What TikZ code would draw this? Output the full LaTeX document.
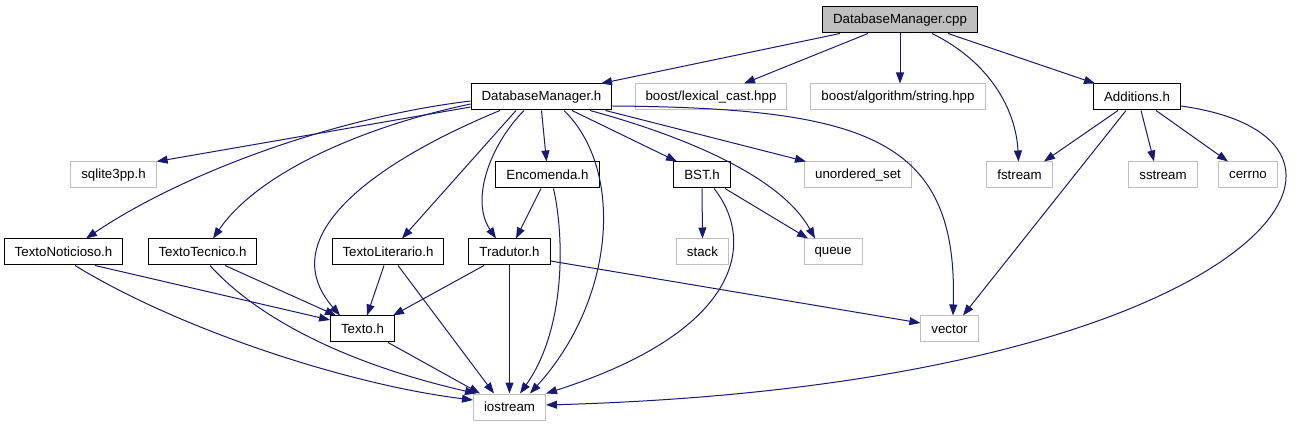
\documentclass[tikz,border=0pt]{standalone}
\usepackage{fontspec}
\setmainfont{Liberation Sans}
\usepackage{tikz}
\usetikzlibrary{arrows.meta,positioning}
\definecolor{edgeblue}{RGB}{25,25,112}
\definecolor{extgray}{RGB}{191,191,191}
\definecolor{rootfill}{RGB}{191,191,191}

\begin{document}
\begin{tikzpicture}[x=1pt, y=-1pt, >={Triangle[length=11pt,width=8pt]},
  hdr/.style={rectangle, draw=black, fill=white, line width=1pt, minimum height=26pt, inner xsep=10.5pt, inner ysep=0pt, font=\fontsize{13.3}{16}\selectfont},
  sys/.style={hdr, draw=extgray},
  rootnode/.style={hdr, fill=rootfill},
  dep/.style={->, edgeblue, line width=1pt}]
\path[use as bounding box, fill=white] (0,0) rectangle (1303,427);
% Rank 0
\node[rootnode] (cpp) at (900,20) {DatabaseManager.cpp};
% Rank 1
\node[hdr] (dmh) at (541.5,97) {DatabaseManager.h};
\node[sys] (lex) at (711,97) {boost/lexical\_cast.hpp};
\node[sys] (alg) at (898,97) {boost/algorithm/string.hpp};
\node[hdr] (add) at (1137,97) {Additions.h};
% Rank 2
\node[sys] (sql) at (113.5,175) {sqlite3pp.h};
\node[hdr] (enc) at (547.5,175) {Encomenda.h};
\node[hdr] (bst) at (702,175) {BST.h};
\node[sys] (uset) at (858,175) {unordered\_set};
\node[sys] (fst) at (1019.5,175) {fstream};
\node[sys] (sst) at (1163,175) {sstream};
\node[sys] (err) at (1248,175) {cerrno};
% Rank 3
\node[hdr] (not) at (63.5,252) {TextoNoticioso.h};
\node[hdr] (tec) at (202.5,252) {TextoTecnico.h};
\node[hdr] (lit) at (388,252) {TextoLiterario.h};
\node[hdr] (tra) at (509.5,252) {Tradutor.h};
\node[sys] (stk) at (702.5,252) {stack};
\node[sys] (que) at (833,252) {queue};
% Rank 4
\node[hdr] (txt) at (362.5,329) {Texto.h};
\node[sys] (vec) at (949.5,329) {vector};
% Rank 5
\node[sys] (ios) at (509.5,407) {iostream};
% From DatabaseManager.cpp
\draw[dep] ([xshift=-60pt]cpp.south) -- ([xshift=59.5pt]dmh.north);
\draw[dep] ([xshift=-32pt]cpp.south) -- ([xshift=33pt]lex.north);
\draw[dep] (cpp.south) -- ([xshift=2pt]alg.north);
\draw[dep] ([xshift=32pt]cpp.south) .. controls (990,62) and (1016,110) .. ([xshift=-1pt]fst.north);
\draw[dep] ([xshift=48pt]cpp.south) -- ([xshift=-42pt]add.north);
% From DatabaseManager.h
\draw[dep] ([yshift=-10pt]dmh.west) -- (sql.north east);
\draw[dep] ([yshift=-4pt]dmh.west) .. controls (330,118) and (180,175) .. ([xshift=22.5pt]not.north);
\draw[dep] ([yshift=-7pt]dmh.west) .. controls (370,125) and (260,170) .. ([xshift=10.5pt]tec.north);
\draw[dep] ([xshift=-41.5pt]dmh.south) .. controls (380,160) and (270,235) .. ([xshift=-22.5pt]txt.north);
\draw[dep] ([xshift=-25.5pt]dmh.south) -- ([xshift=14pt]lit.north);
\draw[dep] ([xshift=-17.5pt]dmh.south) .. controls (490,145) and (470,200) .. ([xshift=-13.5pt]tra.north);
\draw[dep] (dmh.south) -- ([xshift=-1pt]enc.north);
\draw[dep] ([xshift=22.5pt]dmh.south) .. controls (625,170) and (615,300) .. ([xshift=20.5pt]ios.north);
\draw[dep] ([xshift=30.5pt]dmh.south) -- ([xshift=-25pt]bst.north);
\draw[dep] ([xshift=48.5pt]dmh.south) .. controls (680,135) and (780,175) .. ([xshift=-18pt]que.north);
\draw[dep] ([xshift=64pt]dmh.south) -- ([xshift=-52pt]uset.north);
\draw[dep] ([yshift=-9pt]dmh.east) .. controls (870,108) and (958,140) .. ([xshift=3.5pt]vec.north);
% From Encomenda.h
\draw[dep] ([xshift=-6.5pt]enc.south) -- ([xshift=6.5pt]tra.north);
\draw[dep] ([xshift=6pt]enc.south) .. controls (565,240) and (565,330) .. ([xshift=10.5pt]ios.north);
% From BST.h
\draw[dep] (bst.south) -- (stk.north);
\draw[dep] ([xshift=23pt]bst.south) -- ([xshift=-25pt]que.north);
\draw[dep] ([xshift=12pt]bst.south) .. controls (755,240) and (745,330) .. (ios.north east);
% From Additions.h
\draw[dep] ([xshift=-19pt]add.south) -- ([xshift=24.5pt]fst.north);
\draw[dep] ([xshift=4pt]add.south) -- ([xshift=-9pt]sst.north);
\draw[dep] ([xshift=19pt]add.south) -- ([xshift=-20pt]err.north);
\draw[dep] ([xshift=-11pt]add.south) -- ([xshift=13.5pt]vec.north);
\draw[dep] ([yshift=-9pt]add.east) .. controls (1425,140) and (1255,385) .. ([yshift=2pt]ios.east);
% Rank 3 and below
\draw[dep] ([xshift=31.5pt]not.south) -- ([yshift=9pt]txt.west);
\draw[dep] ([xshift=11.5pt]not.south) .. controls (180,330) and (350,385) .. ([yshift=7pt]ios.west);
\draw[dep] ([xshift=22.5pt]tec.south) -- ([xshift=-26.5pt]txt.north);
\draw[dep] ([xshift=7.5pt]tec.south) .. controls (250,310) and (330,360) .. ([xshift=-33.5pt]ios.north);
\draw[dep] ([xshift=-4pt]lit.south) -- ([xshift=4.5pt]txt.north);
\draw[dep] ([xshift=10pt]lit.south) -- ([xshift=-15.5pt]ios.north);
\draw[dep] ([xshift=-25.5pt]tra.south) -- ([xshift=30.5pt]txt.north);
\draw[dep] (tra.south) -- (ios.north);
\draw[dep] ([yshift=-9pt]tra.east) -- ([yshift=6pt]vec.west);
\draw[dep] ([xshift=25.5pt]txt.south) -- ([xshift=-29.5pt]ios.north);
\end{tikzpicture}
\end{document}
